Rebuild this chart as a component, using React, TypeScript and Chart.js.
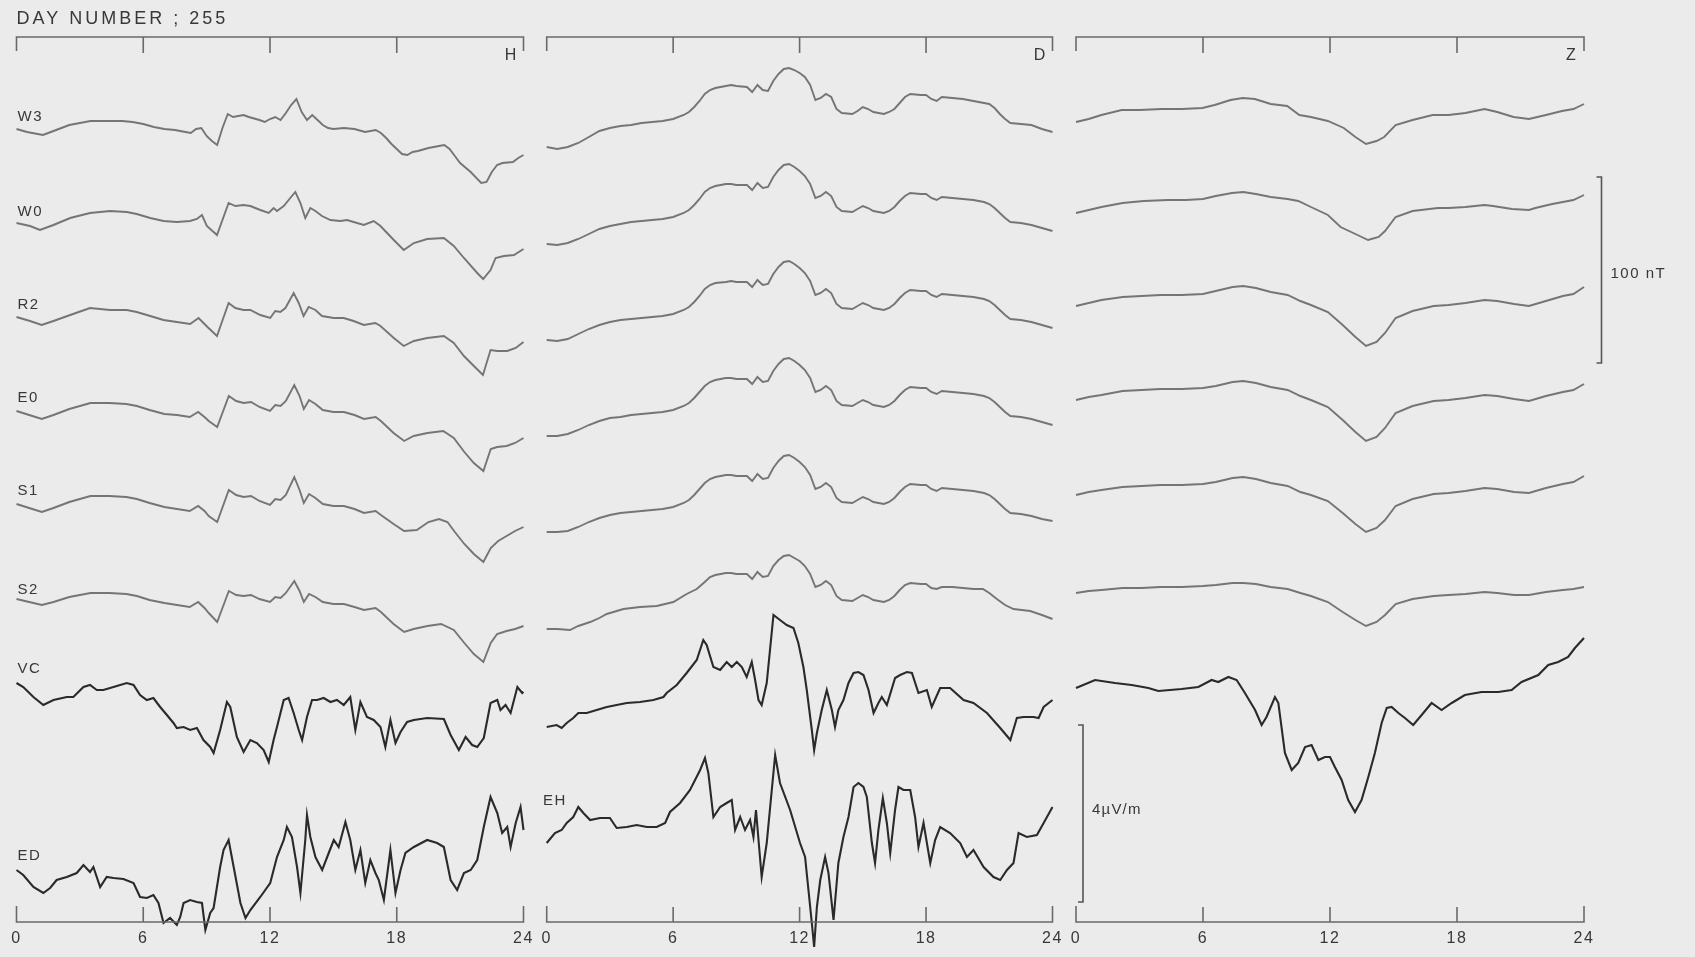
import React, { useEffect, useRef } from 'react';
import { Chart, registerables } from 'chart.js';

Chart.register(...registerables);

type P = [number, number]; // [hour UT, deviation in plot units]

const TITLE = 'DAY NUMBER ; 255';
const HOUR_TICKS = [0, 6, 12, 18, 24];
const PANEL_LETTERS = ['H', 'D', 'Z'];
const ROW_LABELS_H = ['W3', 'W0', 'R2', 'E0', 'S1', 'S2', 'VC', 'ED'];
const ROW_LABEL_EH = 'EH';
const SCALE_NT = 100; // nT
const SCALE_E = 4; // µV/m
const UNITS_PER_NT = 1.86;
const UNITS_PER_UVM = 44.25;

// ---------------- H component ----------------
const H_W3: P[] = [[0,1],[0.5,-2],[1,-4],[1.25,-5],[1.5,-3],[2,1],[2.5,5],[3,7],[3.5,9],[4,9],[4.5,9],[5,9],[5.5,8],[6,6],[6.5,3],[7,1],[7.5,0],[8,-2],[8.25,-3],[8.5,1],[8.75,2],[9,-6],[9.25,-11],[9.5,-15],[9.75,2],[10,16],[10.25,13],[10.5,14],[10.75,15],[11,13],[11.5,10],[11.75,8],[12,11],[12.25,13],[12.5,10],[12.75,17],[13,25],[13.25,31],[13.5,18],[13.75,10],[14,15],[14.25,10],[14.5,5],[14.75,2],[15,1],[15.5,2],[16,1],[16.5,-2],[17,0],[17.25,-3],[17.5,-8],[17.75,-14],[18,-19],[18.25,-24],[18.5,-25],[18.75,-22],[19,-21],[19.5,-18],[20,-16],[20.25,-15],[20.5,-19],[20.75,-26],[21,-33],[21.5,-42],[22,-53],[22.25,-52],[22.5,-42],[22.75,-35],[23,-33],[23.5,-32],[23.75,-28],[24,-25]];
const H_W0: P[] = [[0,0],[0.64,-3],[1.11,-7],[1.75,-2],[2.54,5],[3.48,10],[4.43,12],[5.22,11],[5.69,9],[6.33,5],[6.96,2],[7.59,1],[8.22,2],[8.54,4],[8.78,8],[9.01,-3],[9.49,-12],[10.04,20],[10.36,17],[10.75,18],[11.07,17],[11.54,13],[11.94,10],[12.17,15],[12.33,12],[12.65,17],[12.96,25],[13.2,31],[13.44,20],[13.67,5],[13.91,15],[14.15,12],[14.46,7],[14.86,3],[15.33,2],[15.65,3],[15.96,1],[16.44,-2],[16.91,2],[17.23,-3],[17.86,-17],[18.33,-27],[18.81,-20],[19.44,-16],[20.23,-15],[20.7,-23],[21.18,-35],[21.81,-50],[22.09,-56],[22.44,-47],[22.68,-35],[23.07,-33],[23.55,-32],[24,-26]];
const H_R2: P[] = [[0,0],[0.64,-4],[1.19,-8],[1.75,-4],[2.54,2],[3.48,9],[4.43,7],[5.22,7],[5.69,5],[6.33,1],[6.96,-3],[7.59,-5],[8.22,-7],[8.62,-1],[8.85,-6],[9.09,-11],[9.49,-19],[10.04,14],[10.36,9],[10.75,7],[11.07,7],[11.54,2],[12.01,-1],[12.25,6],[12.49,5],[12.73,9],[13.12,24],[13.36,14],[13.59,1],[13.83,10],[14.15,7],[14.46,1],[15.02,-1],[15.49,-1],[15.96,-4],[16.44,-8],[16.99,-6],[17.23,-9],[17.86,-21],[18.33,-29],[18.81,-24],[19.44,-21],[20.23,-19],[20.7,-26],[21.18,-39],[21.65,-49],[22.08,-58],[22.44,-33],[22.76,-34],[23.23,-34],[23.63,-31],[24,-25]];
const H_E0: P[] = [[0,0],[0.6,-4],[1.2,-8],[1.75,-4],[2.5,2],[3.5,8],[4.4,8],[5.2,7],[5.7,5],[6.3,1],[7,-3],[7.6,-4],[8.2,-6],[8.6,-1],[8.9,-6],[9.1,-10],[9.5,-16],[10.05,15],[10.4,10],[10.75,8],[11.1,9],[11.5,4],[12,0],[12.25,6],[12.5,5],[12.75,10],[13.15,26],[13.4,15],[13.6,2],[13.85,11],[14.15,7],[14.5,1],[15,-1],[15.5,-1],[16,-4],[16.45,-8],[17,-6],[17.25,-10],[17.85,-22],[18.35,-30],[18.8,-25],[19.45,-22],[20.2,-20],[20.7,-27],[21.2,-41],[21.65,-52],[22.1,-60],[22.45,-38],[22.75,-36],[23.2,-35],[23.6,-32],[24,-27]];
const H_S1: P[] = [[0,0],[0.6,-4],[1.2,-8],[1.75,-4],[2.5,2],[3.5,8],[4.4,8],[5.2,7],[5.7,5],[6.3,1],[7,-3],[7.6,-5],[8.2,-7],[8.6,-2],[8.9,-7],[9.1,-12],[9.5,-18],[10.05,14],[10.4,9],[10.75,7],[11.1,8],[11.5,3],[12,-1],[12.25,5],[12.5,4],[12.75,9],[13.15,27],[13.4,14],[13.6,1],[13.85,10],[14.15,6],[14.5,0],[15,-2],[15.5,-2],[16,-5],[16.45,-9],[17,-7],[17.25,-11],[17.85,-20],[18.35,-27],[18.95,-26],[19.5,-18],[20,-15],[20.4,-18],[20.75,-28],[21.2,-40],[21.65,-50],[22.1,-58],[22.45,-44],[22.8,-37],[23.2,-32],[23.6,-27],[24,-23]];
const H_S2: P[] = [[0,0],[0.6,-3],[1.2,-6],[1.75,-3],[2.5,2],[3.5,6],[4.4,6],[5.2,5],[5.7,3],[6.3,-1],[7,-4],[7.6,-6],[8.2,-8],[8.6,-3],[8.9,-9],[9.1,-14],[9.5,-23],[10.05,8],[10.4,4],[10.75,3],[11.1,4],[11.5,0],[12,-3],[12.25,2],[12.5,1],[12.75,6],[13.15,18],[13.4,8],[13.6,-3],[13.85,5],[14.15,2],[14.5,-3],[15,-5],[15.5,-5],[16,-8],[16.45,-11],[17,-9],[17.25,-13],[17.85,-25],[18.35,-33],[18.8,-30],[19.45,-27],[20.1,-25],[20.7,-31],[21.2,-44],[21.65,-55],[22.1,-63],[22.45,-44],[22.75,-35],[23.2,-32],[23.6,-30],[24,-27]];
const H_VC: P[] = [[0,0],[0.32,-4],[0.8,-14],[1.27,-22],[1.75,-17],[2.38,-14],[2.69,-14],[3.17,-4],[3.48,-2],[3.8,-7],[4.11,-7],[4.43,-5],[4.75,-3],[5.22,0],[5.54,-2],[5.85,-12],[6.17,-17],[6.48,-15],[6.8,-24],[7.12,-32],[7.43,-40],[7.59,-45],[7.91,-44],[8.22,-47],[8.54,-45],[8.85,-57],[9.17,-64],[9.33,-70],[9.64,-47],[9.96,-19],[10.12,-24],[10.43,-54],[10.75,-69],[11.07,-57],[11.38,-60],[11.7,-67],[11.94,-79],[12.17,-57],[12.33,-44],[12.65,-17],[12.88,-15],[13.12,-30],[13.36,-47],[13.52,-57],[13.75,-34],[13.99,-17],[14.23,-17],[14.54,-15],[14.86,-19],[15.17,-17],[15.49,-22],[15.8,-14],[16.04,-47],[16.28,-19],[16.59,-34],[16.91,-37],[17.23,-44],[17.46,-64],[17.7,-37],[17.94,-60],[18.18,-49],[18.49,-39],[18.81,-37],[19.44,-35],[20.23,-36],[20.55,-52],[20.94,-67],[21.26,-54],[21.57,-62],[21.81,-64],[22.12,-55],[22.44,-20],[22.76,-17],[22.91,-27],[23.15,-22],[23.39,-30],[23.71,-4],[23.94,-10],[24,-9]];
const H_ED: P[] = [[0,0],[0.32,-5],[0.8,-17],[1.27,-23],[1.59,-18],[1.9,-10],[2.38,-7],[2.85,-3],[3.17,5],[3.48,-2],[3.64,3],[3.96,-17],[4.27,-7],[4.59,-8],[5.06,-9],[5.54,-13],[5.85,-27],[6.17,-28],[6.48,-25],[6.72,-33],[6.96,-53],[7.27,-48],[7.59,-55],[7.75,-47],[7.91,-33],[8.22,-30],[8.54,-32],[8.78,-33],[8.94,-60],[9.17,-43],[9.33,-38],[9.64,3],[9.8,20],[10.04,30],[10.28,3],[10.6,-33],[10.84,-48],[11.07,-40],[11.54,-27],[12.01,-13],[12.33,13],[12.65,30],[12.8,43],[13.04,33],[13.28,3],[13.44,-23],[13.67,30],[13.75,55],[13.91,33],[14.15,13],[14.47,0],[14.78,17],[15.02,30],[15.25,23],[15.57,48],[15.8,30],[16.04,0],[16.28,20],[16.51,-13],[16.75,10],[16.99,-3],[17.15,-10],[17.39,-30],[17.7,20],[17.94,-23],[18.18,0],[18.41,17],[18.81,23],[19.44,30],[19.91,27],[20.23,23],[20.55,-10],[20.86,-20],[21.18,-3],[21.5,0],[21.81,10],[22.12,43],[22.44,73],[22.76,57],[22.99,37],[23.23,43],[23.39,23],[23.63,47],[23.86,63],[24,40]];

// ---------------- D component ----------------
const D_W3: P[] = [[0,0],[0.5,-2],[1,0],[1.5,4],[2,10],[2.5,16],[3,19],[3.5,21],[4,22],[4.5,24],[5,25],[5.5,26],[6,28],[6.5,32],[6.75,35],[7,40],[7.25,46],[7.5,53],[7.75,57],[8,59],[8.5,61],[8.75,62],[9,61],[9.5,60],[9.75,55],[10,62],[10.25,57],[10.5,56],[10.75,66],[11,73],[11.25,78],[11.5,79],[11.75,77],[12,74],[12.25,70],[12.5,62],[12.75,47],[13,49],[13.25,53],[13.5,50],[13.75,38],[14,34],[14.5,33],[14.75,36],[15,40],[15.25,38],[15.5,35],[16,33],[16.25,35],[16.5,38],[16.75,44],[17,50],[17.25,53],[17.75,52],[18,52],[18.25,48],[18.5,46],[18.75,50],[19.25,49],[19.75,48],[20.25,46],[20.75,44],[21,43],[21.25,39],[21.5,33],[21.75,28],[22,24],[22.5,23],[23,22],[23.5,18],[24,15]];
const D_W0: P[] = [[0,0],[0.5,-1],[1,1],[1.5,5],[2,10],[2.5,15],[3,18],[3.5,20],[4,22],[4.5,23],[5,24],[5.5,25],[6,27],[6.5,31],[6.75,34],[7,39],[7.25,45],[7.5,52],[7.75,56],[8,58],[8.5,60],[8.75,60],[9,59],[9.5,59],[9.75,54],[10,61],[10.25,56],[10.5,57],[10.75,67],[11,74],[11.25,79],[11.5,80],[11.75,77],[12,73],[12.25,68],[12.5,60],[12.75,46],[13,48],[13.25,52],[13.5,48],[13.75,37],[14,33],[14.5,32],[14.75,35],[15,38],[15.25,36],[15.5,33],[16,31],[16.25,33],[16.5,37],[16.75,43],[17,48],[17.25,51],[17.75,50],[18,50],[18.25,46],[18.5,44],[18.75,47],[19.25,46],[19.75,45],[20.25,44],[20.75,42],[21,40],[21.25,36],[21.5,31],[21.75,26],[22,22],[22.5,21],[23,19],[23.5,16],[24,13]];
const D_R2: P[] = [[0,0],[0.5,-1],[1,1],[1.5,6],[2,11],[2.5,15],[3,18],[3.5,20],[4,21],[4.5,22],[5,23],[5.5,24],[6,26],[6.5,30],[6.75,33],[7,38],[7.25,44],[7.5,51],[7.75,55],[8,57],[8.5,58],[8.75,59],[9,58],[9.5,58],[9.75,53],[10,60],[10.25,55],[10.5,56],[10.75,66],[11,73],[11.25,78],[11.5,79],[11.75,76],[12,72],[12.25,67],[12.5,59],[12.75,45],[13,47],[13.25,51],[13.5,47],[13.75,36],[14,32],[14.5,31],[14.75,34],[15,37],[15.25,35],[15.5,32],[16,30],[16.25,32],[16.5,36],[16.75,42],[17,47],[17.25,50],[17.75,49],[18,49],[18.25,45],[18.5,43],[18.75,46],[19.25,45],[19.75,44],[20.25,43],[20.75,41],[21,39],[21.25,35],[21.5,30],[21.75,25],[22,21],[22.5,20],[23,18],[23.5,15],[24,12]];
const D_E0: P[] = [[0,0],[0.5,0],[1,2],[1.5,6],[2,11],[2.5,15],[3,18],[3.5,19],[4,21],[4.5,22],[5,23],[5.5,24],[6,26],[6.5,30],[6.75,33],[7,38],[7.25,44],[7.5,50],[7.75,54],[8,56],[8.5,58],[8.75,58],[9,57],[9.5,57],[9.75,52],[10,59],[10.25,54],[10.5,55],[10.75,65],[11,72],[11.25,77],[11.5,78],[11.75,75],[12,71],[12.25,66],[12.5,58],[12.75,44],[13,46],[13.25,50],[13.5,46],[13.75,35],[14,31],[14.5,30],[14.75,33],[15,36],[15.25,34],[15.5,31],[16,29],[16.25,31],[16.5,35],[16.75,41],[17,46],[17.25,49],[17.75,48],[18,48],[18.25,44],[18.5,42],[18.75,45],[19.25,44],[19.75,43],[20.25,42],[20.75,40],[21,38],[21.25,34],[21.5,29],[21.75,24],[22,20],[22.5,19],[23,17],[23.5,14],[24,11]];
const D_S1: P[] = [[0,0],[0.5,0],[1,1],[1.5,5],[2,10],[2.5,14],[3,17],[3.5,19],[4,20],[4.5,21],[5,22],[5.5,23],[6,25],[6.5,29],[6.75,32],[7,37],[7.25,43],[7.5,49],[7.75,53],[8,55],[8.5,57],[8.75,57],[9,56],[9.5,56],[9.75,51],[10,58],[10.25,53],[10.5,54],[10.75,64],[11,71],[11.25,76],[11.5,77],[11.75,74],[12,70],[12.25,65],[12.5,57],[12.75,43],[13,45],[13.25,49],[13.5,45],[13.75,34],[14,30],[14.5,29],[14.75,32],[15,35],[15.25,33],[15.5,30],[16,28],[16.25,30],[16.5,34],[16.75,40],[17,45],[17.25,48],[17.75,47],[18,47],[18.25,43],[18.5,41],[18.75,44],[19.25,43],[19.75,42],[20.25,41],[20.75,39],[21,37],[21.25,33],[21.5,28],[21.75,23],[22,19],[22.5,18],[23,16],[23.5,13],[24,11]];
const D_S2: P[] = [[0,0],[0.5,0],[1.1,-1],[1.5,3],[2.06,7],[2.5,11],[2.85,15],[3.64,20],[4.43,22],[5.22,23],[6.01,27],[6.64,35],[7.12,40],[7.5,47],[7.75,52],[8,54],[8.5,56],[8.75,56],[9,55],[9.5,55],[9.75,50],[10,57],[10.25,52],[10.5,53],[10.75,63],[11,69],[11.25,73],[11.5,74],[11.75,71],[12,68],[12.25,63],[12.5,55],[12.75,42],[13,44],[13.25,48],[13.5,44],[13.75,33],[14,29],[14.5,28],[14.75,31],[15,34],[15.25,32],[15.5,29],[16,27],[16.25,29],[16.5,33],[16.75,39],[17,44],[17.25,46],[17.75,45],[18,45],[18.25,41],[18.5,40],[18.75,42],[19.25,42],[19.75,41],[20.25,40],[20.7,40],[21,36],[21.36,30],[21.75,24],[22.15,20],[22.94,18],[23.5,14],[24,10]];
const D_VC: P[] = [[0,0],[0.47,2],[0.71,-1],[0.95,4],[1.26,9],[1.5,14],[1.9,14],[2.37,17],[2.85,20],[3.32,22],[3.8,24],[4.43,25],[5.06,27],[5.54,30],[5.69,34],[6.17,42],[6.64,54],[7.12,67],[7.43,87],[7.59,82],[7.91,60],[8.23,57],[8.54,65],[8.78,60],[9.02,65],[9.26,60],[9.49,50],[9.73,65],[9.89,47],[10.05,27],[10.2,22],[10.44,44],[10.76,112],[11.07,107],[11.39,102],[11.71,99],[11.94,84],[12.18,60],[12.34,37],[12.58,-3],[12.69,-23],[12.82,-6],[13.05,17],[13.29,37],[13.53,17],[13.68,0],[13.84,17],[14.08,27],[14.32,44],[14.56,54],[14.79,55],[15.03,52],[15.27,37],[15.51,14],[15.74,24],[15.9,30],[16.14,22],[16.53,49],[16.77,52],[17.09,55],[17.33,54],[17.64,34],[18.04,37],[18.27,20],[18.67,39],[19.14,39],[19.78,27],[20.25,24],[20.89,14],[21.52,-1],[22,-13],[22.31,9],[22.63,10],[23.1,10],[23.34,9],[23.58,20],[24,27]];
const D_EH: P[] = [[0,0],[0.39,10],[0.71,13],[0.95,20],[1.26,26],[1.5,36],[1.74,30],[2.06,23],[2.53,25],[3,25],[3.32,15],[3.8,16],[4.27,18],[4.75,16],[5.22,16],[5.62,20],[5.85,31],[6.33,40],[6.8,53],[7.28,73],[7.51,85],[7.67,70],[7.91,26],[8.23,36],[8.54,40],[8.78,43],[8.94,13],[9.18,26],[9.41,13],[9.65,23],[9.81,6],[9.93,33],[10.2,-34],[10.44,0],[10.68,53],[10.84,88],[11.07,60],[11.55,33],[12.02,0],[12.26,-14],[12.42,-47],[12.58,-80],[12.69,-104],[12.82,-64],[12.98,-37],[13.21,-14],[13.37,-30],[13.61,-77],[13.84,-20],[14.08,6],[14.32,26],[14.56,56],[14.79,60],[15.03,56],[15.19,46],[15.43,0],[15.58,-20],[15.74,13],[15.95,45],[16.14,20],[16.3,-10],[16.53,33],[16.69,56],[16.93,53],[17.25,53],[17.48,26],[17.64,-4],[17.88,20],[18.2,-20],[18.43,3],[18.67,16],[19.14,10],[19.62,0],[19.94,-14],[20.25,-7],[20.73,-24],[21.2,-34],[21.52,-37],[21.84,-27],[22.15,-20],[22.39,10],[22.78,6],[23.26,8],[23.58,20],[24,36]];

// ---------------- Z component ----------------
const Z_W3: P[] = [[0,0],[0.6,3],[1.2,7],[2.16,12],[3,12],[4.06,13],[5,13],[5.97,14],[6.55,17],[7.3,22],[7.88,24],[8.45,23],[9.2,18],[9.98,16],[10.55,7],[11.1,5],[11.9,1],[12.65,-6],[13.2,-15],[13.7,-22],[14.2,-19],[14.56,-15],[15.1,-3],[15.9,2],[16.85,7],[17.6,7],[18.4,9],[19.3,13],[19.9,10],[20.67,5],[21.4,3],[22.2,7],[22.96,11],[23.5,13],[24,18]];
const Z_W0: P[] = [[0,0],[0.6,3],[1.2,6],[2.2,10],[3.2,12],[4.35,13],[5.2,13],[6,14],[6.6,17],[7.37,20],[7.9,21],[8.5,19],[9.2,16],[10,14],[10.5,12],[11.1,6],[11.9,-2],[12.5,-14],[13.2,-21],[13.8,-27],[14.3,-24],[14.6,-18],[15.1,-4],[15.9,2],[17.1,5],[17.6,5],[18.4,6],[19.3,8],[19.7,7],[20.6,4],[21.4,3],[21.7,5],[22.5,9],[23,11],[23.5,13],[24,18]];
const Z_R2: P[] = [[0,0],[0.6,3],[1.2,6],[2.2,9],[3.1,10],[4,11],[5,11],[6,12],[6.6,15],[7.4,19],[7.9,20],[8.5,18],[9.2,14],[10,11],[10.6,5],[11.1,1],[11.9,-6],[12.6,-19],[13.2,-31],[13.7,-40],[14.2,-36],[14.6,-27],[15.1,-12],[15.9,-5],[16.9,0],[17.6,1],[18.4,3],[19.3,6],[19.9,5],[20.7,2],[21.4,0],[22.2,5],[23,10],[23.5,12],[24,19]];
const Z_E0: P[] = [[0,0],[0.6,3],[1.2,5],[2.2,9],[3.1,10],[4,11],[5,11],[6,12],[6.6,14],[7.4,18],[7.9,19],[8.5,17],[9.2,13],[10,10],[10.6,4],[11.1,0],[11.9,-7],[12.6,-20],[13.2,-32],[13.7,-41],[14.2,-37],[14.6,-28],[15.1,-13],[15.9,-6],[16.9,-1],[17.6,0],[18.4,2],[19.3,5],[19.9,4],[20.7,1],[21.4,-1],[22.2,4],[23,8],[23.5,10],[24,16]];
const Z_S1: P[] = [[0,0],[0.6,3],[1.2,5],[2.2,8],[3.1,9],[4,10],[5,10],[6,11],[6.6,13],[7.4,17],[7.9,18],[8.5,16],[9.2,12],[10,9],[10.6,3],[11.1,0],[11.9,-6],[12.6,-18],[13.2,-29],[13.7,-37],[14.2,-33],[14.6,-25],[15.1,-11],[15.9,-4],[16.9,1],[17.6,2],[18.4,4],[19.3,7],[19.9,6],[20.7,3],[21.4,2],[22.2,7],[23,11],[23.5,13],[24,19]];
const Z_S2: P[] = [[0,0],[0.6,2],[1.2,3],[2.2,5],[3.1,5],[4,6],[5,6],[6,7],[6.6,8],[7.4,10],[7.9,10],[8.5,9],[9.2,6],[10,4],[10.6,0],[11.1,-3],[11.9,-9],[12.6,-19],[13.2,-27],[13.7,-33],[14.2,-29],[14.6,-22],[15.1,-11],[15.9,-6],[16.9,-3],[17.6,-2],[18.4,-1],[19.3,1],[19.9,0],[20.7,-2],[21.4,-2],[22.2,1],[23,3],[23.5,4],[24,6]];
const Z_VC: P[] = [[0,0],[0.9,8],[1.84,5],[2.63,3],[3.42,0],[3.89,-3],[4.99,-1],[5.78,1],[6.41,8],[6.72,6],[7.2,11],[7.59,8],[7.98,-5],[8.46,-22],[8.77,-37],[9,-29],[9.4,-9],[9.56,-15],[9.87,-65],[10.19,-82],[10.5,-75],[10.82,-59],[11.13,-57],[11.45,-72],[11.76,-69],[12,-69],[12.23,-79],[12.55,-92],[12.86,-112],[13.18,-124],[13.49,-112],[13.81,-89],[14.12,-65],[14.44,-35],[14.68,-20],[14.91,-19],[15.23,-25],[15.54,-30],[15.93,-37],[16.33,-27],[16.8,-15],[17.27,-22],[17.75,-15],[18.37,-7],[19.16,-4],[19.95,-4],[20.58,-2],[21.05,6],[21.84,13],[22.31,23],[22.78,26],[23.25,31],[23.57,40],[24,50]];

// ---------------- layout (pixels) ----------------
const PAGE_W = 1695;
const PAGE_H = 957;
const AXIS_TOP = 37;
const AXIS_BOTTOM = 922;
const BG = '#ebebeb';
const GRAY_LINE = '#757575';
const DARK_LINE = '#2a2a2a';
const AXIS_COLOR = '#6a6a6a';
const TEXT_COLOR = '#383838';
const FONT = '"Liberation Sans", Arial, Helvetica, sans-serif';

type Row = { data: P[]; base: number; dark: boolean; label?: string; labelY?: number; labelX?: number };
type Panel = { letter: string; x0: number; x1: number; cLeft: number; cRight: number; rows: Row[]; first?: boolean; last?: boolean };

const PANELS: Panel[] = [
  {
    letter: PANEL_LETTERS[0], x0: 16.5, x1: 523.5, cLeft: 0, cRight: 535, first: true,
    rows: [
      { data: H_W3, base: 130, dark: false, label: ROW_LABELS_H[0], labelY: 117 },
      { data: H_W0, base: 223, dark: false, label: ROW_LABELS_H[1], labelY: 212 },
      { data: H_R2, base: 317, dark: false, label: ROW_LABELS_H[2], labelY: 305 },
      { data: H_E0, base: 411, dark: false, label: ROW_LABELS_H[3], labelY: 398 },
      { data: H_S1, base: 504, dark: false, label: ROW_LABELS_H[4], labelY: 491 },
      { data: H_S2, base: 599, dark: false, label: ROW_LABELS_H[5], labelY: 590 },
      { data: H_VC, base: 683, dark: true, label: ROW_LABELS_H[6], labelY: 669 },
      { data: H_ED, base: 870, dark: true, label: ROW_LABELS_H[7], labelY: 856 },
    ],
  },
  {
    letter: PANEL_LETTERS[1], x0: 546.7, x1: 1052.5, cLeft: 535, cRight: 1064,
    rows: [
      { data: D_W3, base: 147, dark: false },
      { data: D_W0, base: 244, dark: false },
      { data: D_R2, base: 340, dark: false },
      { data: D_E0, base: 436, dark: false },
      { data: D_S1, base: 532, dark: false },
      { data: D_S2, base: 629, dark: false },
      { data: D_VC, base: 727, dark: true },
      { data: D_EH, base: 843, dark: true, label: ROW_LABEL_EH, labelY: 801, labelX: 543 },
    ],
  },
  {
    letter: PANEL_LETTERS[2], x0: 1076, x1: 1584, cLeft: 1064, cRight: PAGE_W, last: true,
    rows: [
      { data: Z_W3, base: 122, dark: false },
      { data: Z_W0, base: 213, dark: false },
      { data: Z_R2, base: 306, dark: false },
      { data: Z_E0, base: 400, dark: false },
      { data: Z_S1, base: 495, dark: false },
      { data: Z_S2, base: 593, dark: false },
      { data: Z_VC, base: 688, dark: true },
    ],
  },
];

function drawText(ctx: CanvasRenderingContext2D, text: string, x: number, y: number, size: number, align: CanvasTextAlign, spacing = 0) {
  ctx.save();
  ctx.font = `${size}px ${FONT}`;
  ctx.fillStyle = TEXT_COLOR;
  ctx.textAlign = align;
  ctx.textBaseline = 'middle';
  try { (ctx as any).letterSpacing = `${spacing}px`; } catch (e) { /* ignore */ }
  ctx.fillText(text, x, y);
  ctx.restore();
}

function makeDecorPlugin(panel: Panel) {
  return {
    id: 'decor' + panel.letter,
    afterDatasetsDraw(chart: any) {
      const ctx: CanvasRenderingContext2D = chart.ctx;
      const xs = chart.scales.x;
      const ys = chart.scales.y;
      const top = ys.getPixelForValue(ys.max);
      const bot = ys.getPixelForValue(ys.min);
      const xa = xs.getPixelForValue(HOUR_TICKS[0]);
      const xb = xs.getPixelForValue(HOUR_TICKS[HOUR_TICKS.length - 1]);
      ctx.save();
      ctx.strokeStyle = AXIS_COLOR;
      ctx.lineWidth = 1.6;
      // top bracket
      ctx.beginPath();
      ctx.moveTo(xa, top + 14); ctx.lineTo(xa, top); ctx.lineTo(xb, top); ctx.lineTo(xb, top + 14);
      HOUR_TICKS.slice(1, -1).forEach((h) => {
        const x = xs.getPixelForValue(h);
        ctx.moveTo(x, top); ctx.lineTo(x, top + 16);
      });
      ctx.stroke();
      // bottom axis
      ctx.beginPath();
      ctx.moveTo(xa, bot - 16); ctx.lineTo(xa, bot); ctx.lineTo(xb, bot); ctx.lineTo(xb, bot - 16);
      HOUR_TICKS.slice(1, -1).forEach((h) => {
        const x = xs.getPixelForValue(h);
        ctx.moveTo(x, bot); ctx.lineTo(x, bot - 15);
      });
      ctx.stroke();
      ctx.restore();
      HOUR_TICKS.forEach((h) => {
        drawText(ctx, String(h), xs.getPixelForValue(h), bot + 17, 16, 'center', 1.5);
      });
      drawText(ctx, panel.letter, xb - 13, top + 19, 16, 'center');
      // row labels
      panel.rows.forEach((r) => {
        if (!r.label) return;
        const lx = r.labelX !== undefined ? r.labelX - panel.cLeft : xa + 1;
        drawText(ctx, r.label, lx, (r.labelY as number), 15, 'left', 1.5);
      });
      if (panel.first) {
        drawText(ctx, TITLE, xa, 19, 18, 'left', 3);
      }
      if (panel.last) {
        ctx.save();
        ctx.strokeStyle = '#555';
        ctx.lineWidth = 1.6;
        // 100 nT bar
        const nTop = ys.getPixelForValue(AXIS_BOTTOM - 177);
        const nBot = ys.getPixelForValue(AXIS_BOTTOM - 177 - SCALE_NT * UNITS_PER_NT);
        const nx = xb + 17.5;
        ctx.beginPath();
        ctx.moveTo(nx - 5, nTop); ctx.lineTo(nx, nTop); ctx.lineTo(nx, nBot); ctx.lineTo(nx - 5, nBot);
        ctx.stroke();
        // 4 µV/m bar
        const eTop = ys.getPixelForValue(AXIS_BOTTOM - 725);
        const eBot = ys.getPixelForValue(AXIS_BOTTOM - 725 - SCALE_E * UNITS_PER_UVM);
        const ex = xa + 7;
        ctx.beginPath();
        ctx.moveTo(ex - 5, eTop); ctx.lineTo(ex, eTop); ctx.lineTo(ex, eBot); ctx.lineTo(ex - 5, eBot);
        ctx.stroke();
        ctx.restore();
        drawText(ctx, `${SCALE_NT} nT`, nx + 9, (nTop + nBot) / 2 + 4, 15, 'left', 1.5);
        drawText(ctx, `${SCALE_E}\u00b5V/m`, ex + 9, 810, 15, 'left', 1.2);
      }
    },
  };
}

function PanelChart({ panel }: { panel: Panel }) {
  const ref = useRef<HTMLCanvasElement | null>(null);
  useEffect(() => {
    const canvas = ref.current;
    if (!canvas) return;
    const datasets = panel.rows.map((r) => ({
      data: r.data.map(([t, v]) => ({ x: t, y: AXIS_BOTTOM - r.base + v })),
      borderColor: r.dark ? DARK_LINE : GRAY_LINE,
      borderWidth: r.dark ? 2.1 : 1.9,
      pointRadius: 0,
      tension: 0,
      fill: false,
      clip: false as any,
    }));
    const chart = new Chart(canvas, {
      type: 'line',
      data: { datasets },
      options: {
        animation: false,
        responsive: false,
        maintainAspectRatio: false,
        devicePixelRatio: 1,
        events: [],
        layout: {
          padding: {
            left: panel.x0 - panel.cLeft,
            right: panel.cRight - panel.x1,
            top: AXIS_TOP,
            bottom: PAGE_H - AXIS_BOTTOM,
          },
        },
        plugins: { legend: { display: false }, tooltip: { enabled: false }, title: { display: false } },
        scales: {
          x: { type: 'linear', min: HOUR_TICKS[0], max: HOUR_TICKS[HOUR_TICKS.length - 1], display: false },
          y: { type: 'linear', min: 0, max: AXIS_BOTTOM - AXIS_TOP, display: false },
        },
      },
      plugins: [makeDecorPlugin(panel)],
    });
    return () => chart.destroy();
  }, [panel]);
  return (
    <canvas
      ref={ref}
      width={panel.cRight - panel.cLeft}
      height={PAGE_H}
      style={{ position: 'absolute', left: panel.cLeft, top: 0, width: panel.cRight - panel.cLeft, height: PAGE_H }}
    />
  );
}

export default function App() {
  return (
    <div style={{ position: 'fixed', left: 0, top: 0, width: PAGE_W, height: PAGE_H, background: BG, overflow: 'hidden' }}>
      {PANELS.map((p) => (
        <PanelChart key={p.letter} panel={p} />
      ))}
    </div>
  );
}
